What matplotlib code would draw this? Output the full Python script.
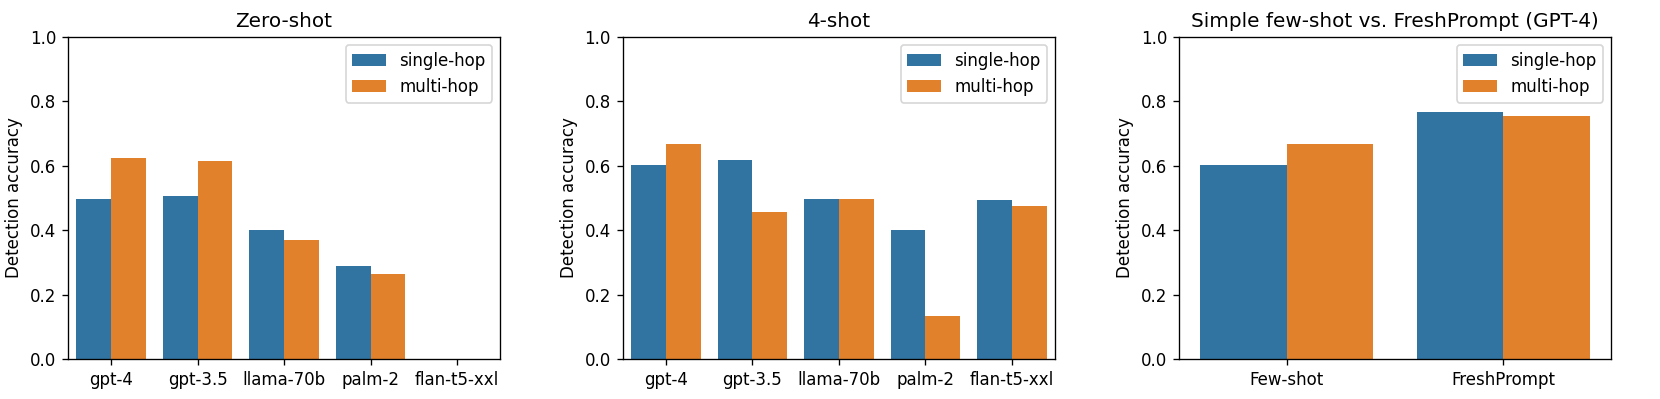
import matplotlib
matplotlib.use("Agg")
import matplotlib.pyplot as plt
import numpy as np

# --- data ---
MODELS = ["gpt-4", "gpt-3.5", "llama-70b", "palm-2", "flan-t5-xxl"]
ZERO_SINGLE = [0.496, 0.505, 0.401, 0.288, 0.0]
ZERO_MULTI  = [0.623, 0.613, 0.369, 0.264, 0.0]
FOUR_SINGLE = [0.603, 0.618, 0.496, 0.401, 0.492]
FOUR_MULTI  = [0.667, 0.456, 0.496, 0.134, 0.474]

METHODS = ["Few-shot", "FreshPrompt"]
FRESH_SINGLE = [0.603, 0.765]
FRESH_MULTI  = [0.667, 0.754]

SERIES = ["single-hop", "multi-hop"]
COLORS = ["#3274a1", "#e1812c"]   # seaborn default palette, desaturated

PANELS = [
    ("Zero-shot", MODELS, ZERO_SINGLE, ZERO_MULTI),
    ("4-shot", MODELS, FOUR_SINGLE, FOUR_MULTI),
    ("Simple few-shot vs. FreshPrompt (GPT-4)", METHODS, FRESH_SINGLE, FRESH_MULTI),
]

DPI = 120
fig = plt.figure(figsize=(1660 / DPI, 399 / DPI), dpi=DPI)

lefts = [0.0408, 0.3751, 0.7101]
width, bottom, height = 0.2606, 0.1003, 0.8077

for left, (title, cats, single, multi) in zip(lefts, PANELS):
    ax = fig.add_axes([left, bottom, width, height])
    x = np.arange(len(cats))
    w = 0.4
    ax.bar(x - w / 2, single, w, color=COLORS[0], label=SERIES[0], linewidth=0)
    ax.bar(x + w / 2, multi, w, color=COLORS[1], label=SERIES[1], linewidth=0)
    ax.set_xticks(x)
    ax.set_xticklabels(cats)
    ax.set_xlim(-0.5, len(cats) - 0.5)
    ax.set_ylim(0, 1.0)
    ax.set_ylabel("Detection accuracy")
    ax.set_title(title)
    ax.legend(loc="upper right")

fig.savefig("out.png", dpi=DPI)
